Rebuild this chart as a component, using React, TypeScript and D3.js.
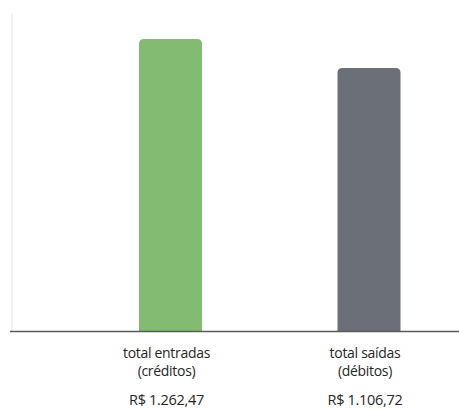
import React from "react";
import * as d3 from "d3";

const categories = ["entradas", "saidas"];
const values = [1262.47, 1106.72];
const labelLine1 = ["total entradas", "total saídas"];
const labelLine2 = ["(créditos)", "(débitos)"];
const valueLabels = ["R$ 1.262,47", "R$ 1.106,72"];
const colors = ["#84bb72", "#6a6f78"];

const W = 459;
const H = 410;

export default function App() {
  const x = d3.scalePoint<string>().domain(categories).range([170.5, 369]);
  const y = d3.scaleLinear().domain([-306, 1262.47]).range([331, 39]);
  const barW = 63;
  const r = 5;
  const bars = categories.map((c, i) => {
    const x0 = (x(c) as number) - barW / 2;
    const x1 = x0 + barW;
    const top = y(values[i]);
    const bottom = y(-306);
    const p = d3.path();
    p.moveTo(x0, bottom);
    p.lineTo(x0, top + r);
    p.quadraticCurveTo(x0, top, x0 + r, top);
    p.lineTo(x1 - r, top);
    p.quadraticCurveTo(x1, top, x1, top + r);
    p.lineTo(x1, bottom);
    p.closePath();
    return p.toString();
  });
  const font = "'Open Sans', 'DejaVu Sans', sans-serif";
  return (
    <svg
      width={W}
      height={H}
      style={{ position: "absolute", left: 0, top: 0, background: "#fff" }}
    >
      <line x1={12} x2={12} y1={14} y2={331} stroke="#ececec" strokeWidth={1.5} />
      {bars.map((d, i) => (
        <path key={categories[i]} d={d} fill={colors[i]} />
      ))}
      <line x1={10} x2={459} y1={331.5} y2={331.5} stroke="#5a5a5a" strokeWidth={1.6} />
      {categories.map((c, i) => {
        const cx = (x(c) as number) - 4;
        return (
          <g key={c} fill="#262626" fontFamily={font} textAnchor="middle" letterSpacing={-0.3}>
            <text x={cx} y={358} fontSize={14}>
              {labelLine1[i]}
            </text>
            <text x={cx} y={376} fontSize={14}>
              {labelLine2[i]}
            </text>
            <text x={cx} y={405} fontSize={14.5}>
              {valueLabels[i]}
            </text>
          </g>
        );
      })}
    </svg>
  );
}
